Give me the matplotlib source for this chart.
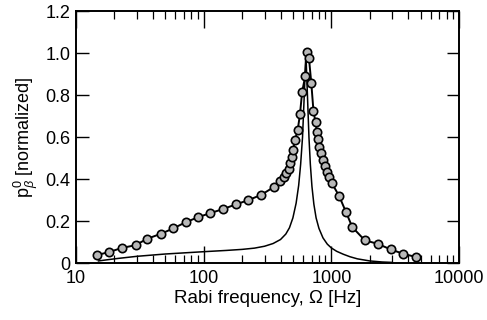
import matplotlib
matplotlib.use('Agg')
import matplotlib.pyplot as plt
from matplotlib.ticker import FixedLocator, FuncFormatter, LogLocator, NullFormatter

plt.rcParams['font.family'] = ['Liberation Sans', 'DejaVu Sans']
plt.rcParams['mathtext.fontset'] = 'custom'
plt.rcParams['mathtext.rm'] = 'Liberation Sans'
plt.rcParams['mathtext.it'] = 'Liberation Sans:italic'

# measured points (circles)
freq_meas = [14.6, 18.1, 22.9, 29.3, 35.9, 46.6, 57.8, 72.2, 90.2, 113, 142, 180,
             223, 283, 357, 398, 425, 445, 462, 478, 492, 503, 519, 545, 568,
             591, 625, 640, 668, 697, 725, 753, 770, 785, 805, 830, 855, 885,
             920, 960, 1010, 1150, 1300, 1460, 1830, 2300, 2910, 3660, 4590]
p_meas = [0.038, 0.052, 0.072, 0.085, 0.115, 0.140, 0.165, 0.194, 0.218, 0.238,
          0.257, 0.280, 0.299, 0.325, 0.363, 0.392, 0.410, 0.430, 0.450, 0.475,
          0.505, 0.540, 0.586, 0.632, 0.708, 0.816, 0.890, 1.005, 0.976, 0.856,
          0.722, 0.670, 0.625, 0.592, 0.552, 0.522, 0.490, 0.462, 0.435, 0.410,
          0.380, 0.320, 0.244, 0.171, 0.108, 0.092, 0.065, 0.044, 0.029]

# thin curve
freq_thin = [15, 20, 30, 50, 100, 150, 200, 250, 300, 350, 400, 440, 470, 500,
             530, 555, 575, 595, 612, 632, 650, 668, 685, 705, 730, 760, 800,
             860, 930, 1000, 1100, 1240, 1400, 1600, 2000, 2500, 3000]
p_thin = [0.010, 0.020, 0.032, 0.043, 0.054, 0.060, 0.065, 0.071, 0.080, 0.093,
          0.112, 0.138, 0.168, 0.215, 0.285, 0.370, 0.470, 0.600, 0.780, 1.000,
          0.800, 0.600, 0.470, 0.365, 0.280, 0.215, 0.165, 0.120, 0.090, 0.072,
          0.056, 0.042, 0.030, 0.020, 0.010, 0.005, 0.003]

fig = plt.figure(figsize=(4.87, 3.20), dpi=100)
ax = fig.add_axes([0.156, 0.178, 0.7865, 0.7875])

ax.plot(freq_thin, p_thin, color='black', lw=1.1)
ax.plot(freq_meas, p_meas, color='black', lw=1.4, marker='o', ms=6,
        mfc='#b8b8b8', mec='black', mew=1.2)

ax.set_xscale('log')
ax.set_xlim(10, 10000)
ax.set_ylim(0, 1.2)
ax.xaxis.set_major_locator(FixedLocator([10, 100, 1000, 10000]))
ax.xaxis.set_major_formatter(FuncFormatter(lambda v, p: '%d' % v))
ax.xaxis.set_minor_locator(LogLocator(base=10, subs=range(2, 10)))
ax.xaxis.set_minor_formatter(NullFormatter())
ax.yaxis.set_major_locator(FixedLocator([0, 0.2, 0.4, 0.6, 0.8, 1.0, 1.2]))
ax.yaxis.set_major_formatter(FuncFormatter(lambda v, p: '0' if v == 0 else '%.1f' % v))

ax.tick_params(which='both', direction='in', top=True, right=True, labelsize=13)
ax.tick_params(axis='x', which='major', length=12, width=1, pad=5)
ax.tick_params(axis='x', which='minor', length=6, width=0.9)
ax.tick_params(axis='y', which='major', length=9, width=1, pad=4)
for s in ax.spines.values():
    s.set_linewidth(1.4)

ax.set_xlabel('Rabi frequency, Ω [Hz]', fontsize=13.5, labelpad=2)
ax.set_ylabel(r'$\mathrm{p}_{\beta}^{0}$ [normalized]', fontsize=13, labelpad=4)

fig.savefig('out.png', dpi=100)
